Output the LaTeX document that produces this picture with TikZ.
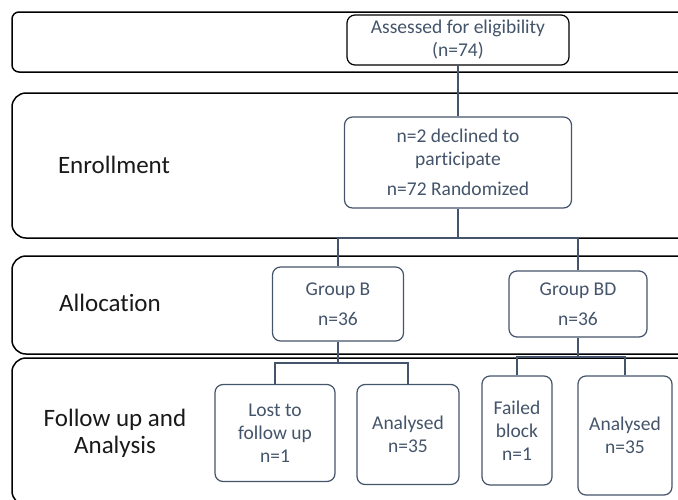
\documentclass[tikz,border=0pt]{standalone}
\usepackage{fontspec}
\setmainfont{Carlito}[Ligatures=NoCommon]
\definecolor{slate}{HTML}{44546A}
\tikzset{
  panel/.style={draw=black, line width=1.5pt, rounded corners=14pt},
  stage/.style={font=\fontsize{25}{27}\selectfont, text=black!90, align=center},
  box/.style={draw=slate, line width=1.2pt, rounded corners=8pt, fill=white, text=slate,
    align=center, font=\fontsize{19.5}{23}\selectfont, inner sep=0pt},
  link/.style={draw=slate, line width=1.2pt}
}
\begin{document}
\begin{tikzpicture}[x=1pt,y=-1pt]
	\useasboundingbox (0,0) rectangle (678,499);
	\clip (0,0) rectangle (678,499);
	% stage panels
	\draw[panel, rounded corners=7pt] (12,12) rectangle (700,72);
	\draw[panel] (12,93) rectangle (692,238);
	\draw[panel] (12,256) rectangle (700,354);
	\draw[panel] (12,358) rectangle (694,505);

	\node[stage] (enrol) at (114,165) {Enrollment};
	\node[stage] (alloc) at (110,303) {Allocation};
	\node[stage] (follow) at (115,433) {Follow up and\\Analysis};

	% boxes
	\node[box, draw=black, minimum width=222pt, minimum height=50pt] (assess) at (458,40)
		{Assessed for eligibility\\(n=74)};
	\node[box, minimum width=227pt, minimum height=91pt] (rand) at (458,162.5)
		{n=2 declined to\\participate\\[7pt]n=72 Randomized};
	\node[box, minimum width=131pt, minimum height=74pt] (grpB) at (338,304)
		{Group B\\[7pt]n=36};
	\node[box, minimum width=138pt, minimum height=66pt] (grpBD) at (578,304)
		{Group BD\\[7pt]n=36};
	\node[box, minimum width=120pt, minimum height=97pt] (lost) at (275,433)
		{Lost to\\follow up\\n=1};
	\node[box, minimum width=102pt, minimum height=100pt] (anaB) at (408,434.5)
		{Analysed\\n=35};
	\node[box, minimum width=70pt, minimum height=109pt] (fail) at (517,430.5)
		{Failed\\block\\n=1};
	\node[box, minimum width=94pt, minimum height=119pt] (anaBD) at (625,435.5)
		{Analysed\\n=35};

	% connectors
	\coordinate (busA) at (458,238);
	\coordinate (busB) at (338,363);
	\coordinate (busD) at (578,357);
	\draw[link] (assess) -- (rand);
	\draw[link] (rand) -- (busA);
	\draw[link] (busA) -| (grpB);
	\draw[link] (busA) -| (grpBD);
	\draw[link] (grpB) -- (busB);
	\draw[link] (busB) -| (lost);
	\draw[link] (busB) -| (anaB);
	\draw[link] (grpBD) -- (busD);
	\draw[link] (busD) -| (fail);
	\draw[link] (busD) -| (anaBD);
\end{tikzpicture}
\end{document}
